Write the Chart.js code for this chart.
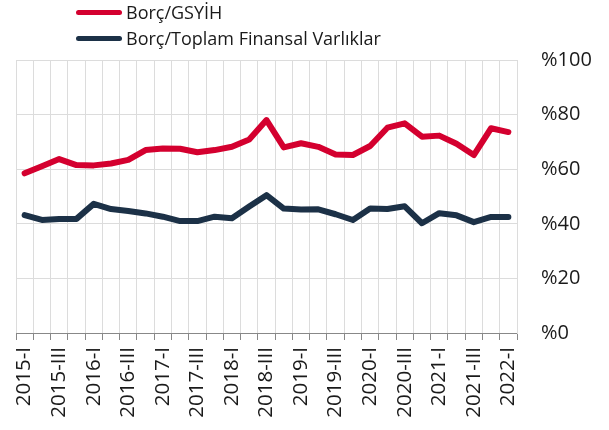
<!DOCTYPE html>
<html>
<head>
<meta charset="utf-8">
<script src="https://cdn.jsdelivr.net/npm/chart.js@4/dist/chart.umd.min.js"></script>
<style>
  body { margin: 0; background: #fff; }
  #wrap { position: relative; width: 609px; height: 430px; font-family: 'Open Sans', sans-serif; }
  #chart { position: absolute; left: 0; top: 0; }
  .leg { position: absolute; left: 76px; display: flex; align-items: center; font-size: 18px; color: #1a1a1a; }
  .leg i { display: inline-block; width: 46px; height: 5px; border-radius: 3px; margin-right: 4px; }
</style>
</head>
<body>
<div id="wrap">
  <canvas id="chart" width="609" height="430"></canvas>
  <div class="leg" style="top:0px"><i style="background:#d4002f"></i>Borç/GSYİH</div>
  <div class="leg" style="top:26px"><i style="background:#1c3147"></i>Borç/Toplam Finansal Varlıklar</div>
</div>
<script>
const quarters = [];
for (let y = 2015; y <= 2022; y++) {
  for (const q of ['I', 'II', 'III', 'IV']) {
    if (y === 2022 && q !== 'I') break;
    quarters.push(y + '-' + q);
  }
}

const borcGsyih = [58.5, 61.1, 63.7, 61.5, 61.4, 62.1, 63.4, 67.0, 67.6, 67.5,
  66.2, 67.0, 68.2, 70.9, 78.0, 68.0, 69.5, 68.2, 65.4, 65.2,
  68.5, 75.2, 76.8, 71.9, 72.3, 69.3, 65.2, 75.0, 73.6];

const borcVarlik = [43.2, 41.4, 41.8, 41.8, 47.3, 45.4, 44.7, 43.8, 42.6, 41.0,
  41.0, 42.6, 42.0, 46.3, 50.5, 45.6, 45.2, 45.3, 43.5, 41.4,
  45.6, 45.4, 46.4, 40.2, 43.9, 43.1, 40.6, 42.5, 42.5];

const yTicks = [0, 20, 40, 60, 80, 100];

const GRID = '#dcdcdc';

new Chart(document.getElementById('chart'), {
  type: 'line',
  data: {
    labels: quarters,
    datasets: [
      { label: 'Borç/GSYİH', data: borcGsyih, borderColor: '#d4002f' },
      { label: 'Borç/Toplam Finansal Varlıklar', data: borcVarlik, borderColor: '#1c3147' }
    ]
  },
  options: {
    responsive: false,
    animation: false,
    layout: { padding: { top: 60, left: 16, right: 0, bottom: 0 } },
    elements: {
      line: { borderWidth: 6, tension: 0, borderCapStyle: 'round', borderJoinStyle: 'round' },
      point: { radius: 0 }
    },
    plugins: { legend: { display: false }, tooltip: { enabled: false } },
    scales: {
      x: {
        offset: true,
        grid: { offset: true, color: GRID, tickLength: 7, tickColor: '#888' },
        border: { color: '#888' },
        ticks: {
          autoSkip: false,
          minRotation: 90,
          maxRotation: 90,
          padding: 7,
          color: '#1a1a1a',
          font: { family: 'Open Sans', size: 20.5 },
          callback: (v, i) => i % 2 === 0 ? quarters[i] : ''
        },
        afterFit: s => { s.height = 97; }
      },
      y: {
        position: 'right',
        min: 0,
        max: 100,
        afterBuildTicks: s => { s.ticks = yTicks.map(v => ({ value: v })); },
        grid: { color: GRID, drawTicks: false },
        border: { color: GRID },
        ticks: {
          padding: 24,
          color: '#1a1a1a',
          font: { family: 'Open Sans', size: 20 },
          callback: v => '%' + v
        },
        afterFit: s => { s.width = 92; }
      }
    }
  }
});
</script>
</body>
</html>
